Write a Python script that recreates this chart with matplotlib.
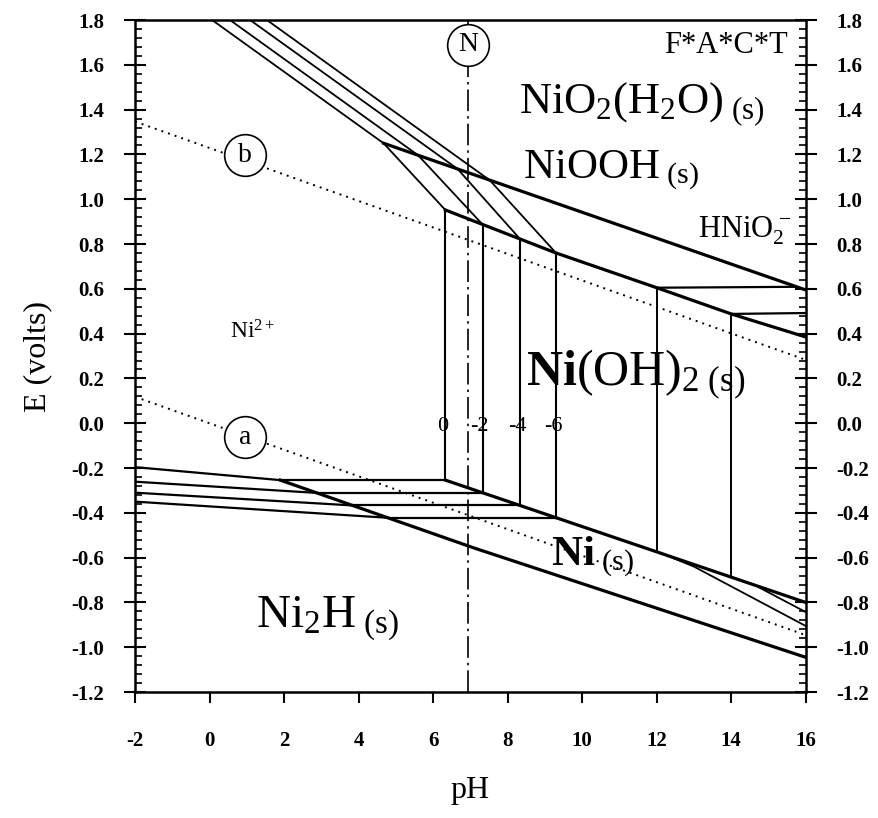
import numpy as np
import matplotlib
matplotlib.use("Agg")
import matplotlib.pyplot as plt
from matplotlib.ticker import MultipleLocator

plt.rcParams['font.family'] = ['Liberation Serif', 'DejaVu Serif']
plt.rcParams['mathtext.fontset'] = 'custom'
plt.rcParams['mathtext.rm'] = 'Liberation Serif'
plt.rcParams['mathtext.bf'] = 'Liberation Serif:bold'
plt.rcParams['mathtext.it'] = 'Liberation Serif:italic'
plt.rcParams['axes.unicode_minus'] = False

# log10 of dissolved Ni concentration for each set of lines
log_conc = ['0', '-2', '-4', '-6']

# NiO2 / Ni2+ lines: start at top of plot, end on NiO2/NiOOH line
nio2_top_ph = [0.07, 0.55, 1.09, 1.54]
nio2_top_e = [1.8, 1.8, 1.8, 1.8]
knee_ph = [4.67, 5.60, 6.66, 7.52]
knee_e = [1.25, 1.196, 1.135, 1.085]

# Ni2+ / Ni(OH)2 vertical lines
ni2_ph = [6.33, 7.33, 8.33, 9.30]
ni2_top = [0.952, 0.887, 0.823, 0.760]
ni2_bot = [-0.254, -0.311, -0.367, -0.422]

# Ni2+ / Ni2H lines (left edge) and where they meet the Ni/Ni2H line
ni2h_left_ph = [-2, -2, -2, -2]
ni2h_left_e = [-0.196, -0.261, -0.310, -0.350]
ni2h_end_ph = [1.90, 2.88, 3.84, 4.78]

# solid/solid boundaries
nio2_nioo_ph = [4.67, 16.0]
nio2_nioo_e = [1.25, 0.595]
niooh_oh_ph = [6.33, 9.30, 12.0, 14.0, 16.0]
niooh_oh_e = [0.952, 0.760, 0.605, 0.488, 0.385]
oh_ni_ph = [6.33, 16.0]
oh_ni_e = [-0.254, -0.800]
ni_ni2h_ph = [1.90, 7.10, 16.0]
ni_ni2h_e = [-0.254, -0.557, -1.045]

# HNiO2- boundaries
hnio2_ph = [12.0, 14.0]
hnio2_top = [0.605, 0.488]
hnio2_bot = [-0.572, -0.686]
hnio2_h_end = [15.7, 16.0]
hnio2_low_ph = [[12.0, 13.0, 16.0], [14.0, 14.6, 16.0]]
hnio2_low_e = [[-0.572, -0.640, -0.905], [-0.686, -0.720, -0.843]]

# water stability lines a and b
water_ph = [-2, 16]
water_a = [0.118, -0.946]
water_b = [1.347, 0.283]
neutral_ph = 6.95

fig = plt.figure(figsize=(8.79, 8.18), dpi=100)
ax = fig.add_axes([0.1536, 0.154, 0.763, 0.8215])
ax.set_xlim(-2, 16)
ax.set_ylim(-1.2, 1.8)

thick = 2.3
thin = 1.3

for i in range(4):
    ax.plot([nio2_top_ph[i], knee_ph[i]], [nio2_top_e[i], knee_e[i]], color='k', lw=thin)
    ax.plot([knee_ph[i], ni2_ph[i]], [knee_e[i], ni2_top[i]], color='k', lw=thin)
    ax.plot([ni2_ph[i], ni2_ph[i]], [ni2_top[i], ni2_bot[i]], color='k', lw=1.5)
    ax.plot([ni2h_left_ph[i], ni2h_end_ph[i]], [ni2h_left_e[i], ni2_bot[i]], color='k', lw=1.6)
    ax.plot([ni2h_end_ph[i], ni2_ph[i]], [ni2_bot[i], ni2_bot[i]], color='k', lw=1.6)
    ax.text(ni2_ph[i] - 0.08, -0.035, log_conc[i], fontsize=16, ha='center', va='baseline')

ax.plot(nio2_nioo_ph, nio2_nioo_e, color='k', lw=thick)
ax.plot(niooh_oh_ph, niooh_oh_e, color='k', lw=thick)
ax.plot(oh_ni_ph, oh_ni_e, color='k', lw=thick)
ax.plot(ni_ni2h_ph, ni_ni2h_e, color='k', lw=thick)

for i in range(2):
    ax.plot([hnio2_ph[i], hnio2_ph[i]], [hnio2_top[i], hnio2_bot[i]], color='k', lw=1.4)
    ax.plot([hnio2_ph[i], hnio2_h_end[i]], [hnio2_top[i], hnio2_top[i] + 0.004], color='k', lw=1.6)
    ax.plot(hnio2_low_ph[i], hnio2_low_e[i], color='k', lw=thin)

# water lines
ax.plot(water_ph, water_a, color='k', lw=1.4, linestyle=(0, (1, 2.6)))
ax.plot(water_ph, water_b, color='k', lw=1.4, linestyle=(0, (1, 2.6)))
ax.axvline(neutral_ph, color='k', lw=1.2, linestyle=(0, (13, 3, 1.5, 3)))

# circled labels
circles = [(neutral_ph, 1.69, 'N'), (0.96, 1.197, 'b'), (0.96, -0.062, 'a')]
for cx, cy, lab in circles:
    ax.scatter([cx], [cy], s=900, facecolor='white', edgecolor='k', lw=1.2, zorder=5)
    ax.text(cx, cy, lab, fontsize=20, ha='center', va='center', zorder=6)

# region labels
ax.text(8.3, 1.385, r'$\mathrm{NiO_2(H_2O)_{\ (s)}}$', fontsize=32)
ax.text(8.4, 1.095, r'$\mathrm{NiOOH_{\ (s)}}$', fontsize=31)
ax.text(13.1, 0.831, r'$\mathrm{HNiO_2^{\,-}}$', fontsize=22)
ax.text(0.55, 0.38, r'$\mathrm{Ni^{2+}}$', fontsize=17)
ax.text(8.5, 0.17, r'$\mathbf{Ni}\mathrm{(OH)_{2\ (s)}}$', fontsize=36)
ax.text(9.16, -0.633, r'$\mathbf{Ni}\mathrm{_{\ (s)}}$', fontsize=31)
ax.text(1.25, -0.91, r'$\mathrm{Ni_2H_{\ (s)}}$', fontsize=34)
ax.text(12.2, 1.653, 'F*A*C*T', fontsize=22)

# axes and ticks
for sp in ax.spines.values():
    sp.set_linewidth(1.8)
ax.xaxis.set_major_locator(MultipleLocator(2))
ax.yaxis.set_major_locator(MultipleLocator(0.2))
ax.yaxis.set_minor_locator(MultipleLocator(0.04))
ax.tick_params(axis='x', which='major', direction='out', length=8, width=1.5,
               labelsize=15, pad=20)
ax.tick_params(axis='y', which='major', direction='inout', length=16, width=1.5,
               left=True, right=True, labelleft=True, labelright=True,
               labelsize=15, pad=14)
ax.tick_params(axis='y', which='minor', direction='in', length=5, width=1.2,
               left=True, right=True)
ax.set_yticklabels(['%.1f' % v for v in ax.get_yticks()])
for lbl in ax.get_xticklabels() + ax.get_yticklabels():
    lbl.set_fontweight('bold')

ax.set_xlabel('pH', fontsize=23, labelpad=18)
ax.set_ylabel('E (volts)', fontsize=23, labelpad=14)

fig.savefig('out.png', dpi=100)
